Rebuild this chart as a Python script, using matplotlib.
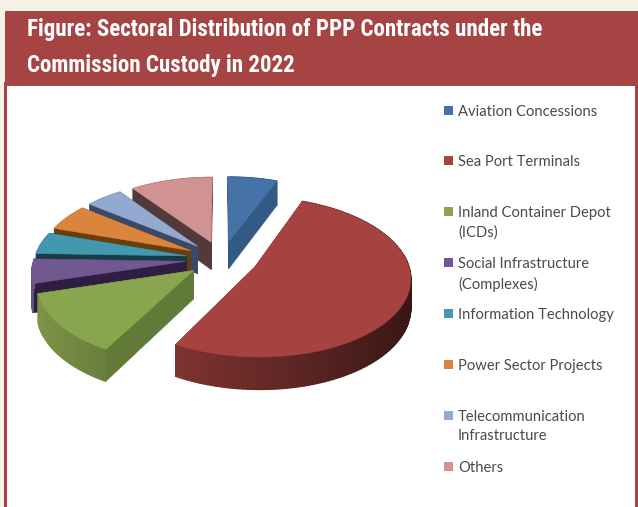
import numpy as np
import matplotlib
matplotlib.use("Agg")
import matplotlib.pyplot as plt
from matplotlib.patches import Polygon, Rectangle
from matplotlib.colors import to_rgb

labels = ["Aviation Concessions", "Sea Port Terminals", "Inland Container Depot\n(ICDs)",
          "Social Infrastructure\n(Complexes)", "Information Technology", "Power Sector Projects",
          "Telecommunication\nInfrastructure", "Others"]
values = [6.0, 52.0, 12.5, 5.0, 4.5, 5.5, 4.5, 10.0]
colors = ["#4573A7", "#A64340", "#89A54E", "#71588F", "#4298AF", "#DB843D", "#93A9CF", "#D19392"]
wall_colors = ["#335A85", "#7A3230", "#627A38", "#2E1F42", "#173C48", "#6B3D0C", "#3A4A66", "#52393A"]
title_lines = ["Figure: Sectoral Distribution of PPP Contracts under the", "Commission Custody in 2022"]

BG = "#F5F3E8"
RED = "#A64343"
CX, CY = 222, 259
R = 152
Q = 0.505
PERSP = 8.0
DEPTH = 28
EXPLODE = 36
TITLE_WIDTH = 516

plt.rcParams['font.family'] = ['Lato', 'DejaVu Sans']

fig = plt.figure(figsize=(6.38, 5.07), dpi=100, facecolor=BG)
ax = fig.add_axes([0, 0, 1, 1])
ax.set_xlim(0, 638)
ax.set_ylim(507, 0)
ax.axis("off")


def project(x, y, z=0.0):
    # disc coordinates -> pixels, y is towards the back, z is downwards
    w = PERSP / (PERSP + y / R)
    return CX + x * w, CY - y * Q * w + z * w


def mix(col, f):
    return tuple(min(1, c * f) for c in to_rgb(col))


# ---------------- frame ----------------
ax.add_patch(Rectangle((4, 82), 634, 430, fc=RED, ec="none"))
ax.add_patch(Rectangle((7, 86), 628, 430, fc="white", ec="none"))
ax.add_patch(Rectangle((5, 11), 633, 74, fc=RED, ec="none"))
titles = []
for i, line in enumerate(title_lines):
    titles.append(ax.text(27, 29.5 + i * 36, line, color="white", fontsize=17, fontweight="bold",
                          family=["Roboto Condensed", "Liberation Sans", "DejaVu Sans"],
                          va="center", ha="left"))
# fit the long line to the header width whatever font was found
renderer = fig.canvas.get_renderer()
size = 17 * TITLE_WIDTH / titles[0].get_window_extent(renderer).width
for t in titles:
    t.set_fontsize(size)

# ---------------- pie ----------------
edges = np.cumsum([0] + values) / sum(values) * 2 * np.pi
slices = []
for i in range(len(values)):
    slices.append((np.cos((edges[i] + edges[i + 1]) / 2), i))

# back to front
z = 3.0
for cmid, i in sorted(slices, reverse=True):
    a0, a1 = edges[i], edges[i + 1]
    mid = (a0 + a1) / 2
    ox, oy = EXPLODE * np.sin(mid), EXPLODE * np.cos(mid)
    th = np.linspace(a0, a1, max(4, int((a1 - a0) * 40)))
    xs = ox + R * np.sin(th)
    ys = oy + R * np.cos(th)
    z += 1
    # back slices: outer wall goes behind the cut walls, front slices the other way
    z_cut = z + 1 if cmid > 0 else z
    z_out = z if cmid > 0 else z + 1
    z += 2

    # cut walls
    for a in (a0, a1):
        ex, ey = ox + R * np.sin(a), oy + R * np.cos(a)
        pts = [project(ox, oy), project(ex, ey), project(ex, ey, DEPTH), project(ox, oy, DEPTH)]
        ax.add_patch(Polygon(pts, fc=wall_colors[i], ec=wall_colors[i], lw=0.5, zorder=z_cut))
    # outer wall, shaded by direction
    for j in range(len(th) - 1):
        pts = [project(xs[j], ys[j]), project(xs[j + 1], ys[j + 1]),
               project(xs[j + 1], ys[j + 1], DEPTH), project(xs[j], ys[j], DEPTH)]
        f = np.clip(0.62 - 0.3 * np.sin((th[j] + th[j + 1]) / 2), 0.3, 0.95)
        c = mix(colors[i], f)
        ax.add_patch(Polygon(pts, fc=c, ec=c, lw=1.0, zorder=z_out))
    # top face
    top = [project(ox, oy)] + [project(x, y) for x, y in zip(xs, ys)]
    ax.add_patch(Polygon(top, fc=colors[i], ec=colors[i], lw=0.4, zorder=z))

# ---------------- legend ----------------
for i, lab in enumerate(labels):
    y = 110 + i * 50.9
    ax.add_patch(Rectangle((444, y - 4.5), 9, 9, fc=colors[i], ec="none", zorder=50))
    ax.text(458, y - 5.5, lab, fontsize=10.6, color="#4A4A4A", va="top", ha="left",
            linespacing=1.45, zorder=50)

fig.savefig("out.png", dpi=100, facecolor=BG)
